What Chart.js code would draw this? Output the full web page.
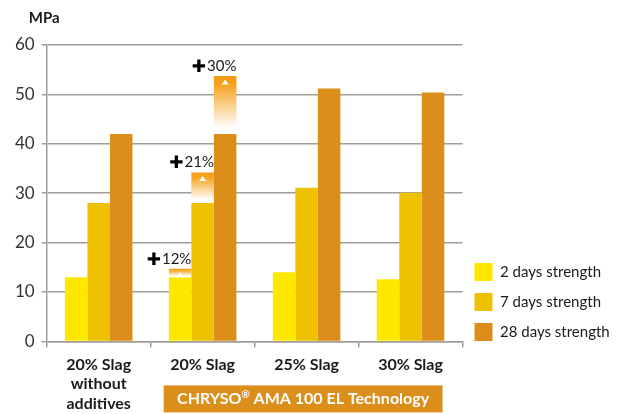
<!DOCTYPE html>
<html>
<head>
<meta charset="utf-8">
<script src="https://cdn.jsdelivr.net/npm/chart.js@4.4.0/dist/chart.umd.min.js"></script>
<style>
    html, body { margin: 0; padding: 0; background: #fff; }
    #wrap { width: 627px; height: 414px; position: relative; }
</style>
</head>
<body>
<div id="wrap"><canvas id="myChart"></canvas></div>
<script>
var categories = [["20% Slag", "without", "additives"], "20% Slag", "25% Slag", "30% Slag"];
var seriesNames = ["2 days strength", "7 days strength", "28 days strength"];
var days2 = [13, 13, 14, 12.6];
var days7 = [28, 28, 31.1, 30.1];
var days28 = [42, 42, 51.2, 50.4];
// strength reached with the admixture (20% slag group only)
var admix2 = [null, 14.7, null, null];
var admix7 = [null, 34.2, null, null];
var admix28 = [null, 53.7, null, null];
var gainLabels = ["12%", "21%", "30%"];
var yTicks = [0, 10, 20, 30, 40, 50, 60];
var unitLabel = "MPa";
var bracketText = "CHRYSO® AMA 100 EL Technology";

var colors = ["#ffe800", "#edc100", "#db8f1a"];
var gridColor = "#a09e96";
var font = "Lato";

function gain(top, base) {
    var out = [];
    for (var i = 0; i < top.length; i++) {
        out.push(top[i] === null ? null : top[i] - base[i]);
    }
    return out;
}

function gainFill(top, base) {
    return function(context) {
        var chart = context.chart;
        var i = context.dataIndex;
        var y = chart.scales.y;
        if (!y || top[i] === null || i === undefined) return "#f5a21c";
        var y0 = y.getPixelForValue(top[i]);
        var y1 = y.getPixelForValue(base[i]);
        if (!isFinite(y0) || !isFinite(y1)) return "#f5a21c";
        var g = chart.ctx.createLinearGradient(0, y0, 0, y1);
        g.addColorStop(0, "#f39a12");
        g.addColorStop(0.15, "#f5a41f");
        g.addColorStop(0.5, "#f9cf8a");
        g.addColorStop(0.9, "#ffffff");
        g.addColorStop(1, "#ffffff");
        return g;
    };
}

var extras = {
    id: "extras",
    afterDatasetsDraw: function(chart) {
        var ctx = chart.ctx;
        ctx.save();
        [3, 4, 5].forEach(function(dsIndex, k) {
            var meta = chart.getDatasetMeta(dsIndex);
            var values = chart.data.datasets[dsIndex].data;
            meta.data.forEach(function(bar, i) {
                if (values[i] === null) return;
                var right = bar.x + bar.width / 2;
                // little white arrow
                ctx.fillStyle = "#ffffff";
                ctx.beginPath();
                ctx.moveTo(bar.x, bar.y + 3.5);
                ctx.lineTo(bar.x + 3.5, bar.y + 8.5);
                ctx.lineTo(bar.x - 3.5, bar.y + 8.5);
                ctx.closePath();
                ctx.fill();
                // +xx% label
                ctx.textAlign = "right";
                ctx.textBaseline = "alphabetic";
                ctx.fillStyle = "#1a1a1a";
                ctx.font = "15px " + font;
                ctx.fillText(gainLabels[k], right, bar.y - 5);
                var w = ctx.measureText(gainLabels[k]).width;
                ctx.fillStyle = "#000000";
                ctx.font = "17px 'DejaVu Sans'";
                ctx.fillText("\u271A", right - w - 1, bar.y - 4);
            });
        });
        ctx.restore();
    },
    afterDraw: function(chart) {
        var ctx = chart.ctx;
        var area = chart.chartArea;
        var x = chart.scales.x;
        ctx.save();
        // unit
        ctx.fillStyle = "#1a1a1a";
        ctx.font = "bold 15px " + font;
        ctx.textAlign = "left";
        ctx.textBaseline = "alphabetic";
        ctx.fillText(unitLabel, area.left - 18, area.top - 22);
        // bracket under the admixture groups
        var left = x.getPixelForValue(1) - 39;
        var right = x.getPixelForValue(3) + 32;
        var top = area.bottom + 44;
        ctx.fillStyle = colors[2];
        ctx.fillRect(left, top, right - left, 27);
        var parts = bracketText.split("\u00AE");
        ctx.font = "bold 16px " + font;
        var w1 = ctx.measureText(parts[0]).width;
        var w3 = ctx.measureText(parts[1]).width;
        ctx.font = "bold 10px " + font;
        var w2 = ctx.measureText("\u00AE").width;
        var tx = (left + right) / 2 - (w1 + w2 + w3) / 2;
        var ty = top + 19;
        ctx.fillStyle = "#ffffff";
        ctx.font = "bold 16px " + font;
        ctx.fillText(parts[0], tx, ty);
        ctx.font = "bold 10px " + font;
        ctx.fillText("\u00AE", tx + w1, ty - 6);
        ctx.font = "bold 16px " + font;
        ctx.fillText(parts[1], tx + w1 + w2, ty);
        ctx.restore();
    }
};

var data = {
    labels: categories,
    datasets: [
        { label: seriesNames[0], data: days2, backgroundColor: colors[0], stack: "s2" },
        { label: seriesNames[1], data: days7, backgroundColor: colors[1], stack: "s7" },
        { label: seriesNames[2], data: days28, backgroundColor: colors[2], stack: "s28" },
        { label: "gain2", data: gain(admix2, days2), backgroundColor: gainFill(admix2, days2), stack: "s2" },
        { label: "gain7", data: gain(admix7, days7), backgroundColor: gainFill(admix7, days7), stack: "s7" },
        { label: "gain28", data: gain(admix28, days28), backgroundColor: gainFill(admix28, days28), stack: "s28" }
    ]
};

var options = {
    responsive: true,
    maintainAspectRatio: false,
    animation: false,
    layout: { padding: { top: 45, left: 8, right: 13, bottom: -7 } },
    datasets: { bar: { categoryPercentage: 0.65, barPercentage: 1, borderWidth: 0 } },
    plugins: {
        legend: {
            position: "right",
            align: "start",
            fullSize: true,
            title: { display: true, text: "", font: { size: 10, lineHeight: 1 }, padding: { top: 0, bottom: 196 } },
            labels: {
                boxWidth: 18,
                boxHeight: 18,
                padding: 12,
                color: "#1a1a1a",
                font: { family: font, size: 15 },
                filter: function(item) { return item.datasetIndex < 3; }
            }
        },
        tooltip: { enabled: false }
    },
    scales: {
        x: {
            stacked: true,
            grid: { drawOnChartArea: false, tickLength: 6, color: gridColor, lineWidth: 1.5 },
            border: { color: gridColor, width: 1.5 },
            ticks: { padding: 8, color: "#1a1a1a", maxRotation: 0, font: { family: font, size: 16, weight: "bold", lineHeight: 1.2 } }
        },
        y: {
            stacked: true,
            min: yTicks[0],
            max: yTicks[yTicks.length - 1],
            ticks: { stepSize: yTicks[1] - yTicks[0], padding: 7, color: "#333333", font: { family: font, size: 17 } },
            grid: { color: gridColor, lineWidth: 1.5, tickLength: 5 },
            border: { color: gridColor, width: 1.5 }
        }
    }
};

var ctx = document.getElementById("myChart");
var myChart = new Chart(ctx, {
    type: "bar",
    data: data,
    options: options,
    plugins: [extras]
});
</script>
</body>
</html>
